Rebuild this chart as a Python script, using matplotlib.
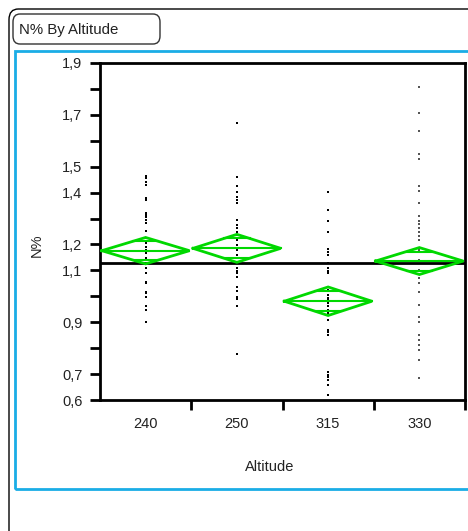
import matplotlib
matplotlib.use("Agg")
import matplotlib.pyplot as plt
from matplotlib.patches import FancyBboxPatch, Rectangle
from matplotlib.ticker import FixedLocator, FuncFormatter
import numpy as np

plt.rcParams['font.family'] = ['Liberation Sans', 'DejaVu Sans']

categories = ["240", "250", "315", "330"]

n_240 = [1.465, 1.455, 1.442, 1.429, 1.380, 1.371, 1.321, 1.314, 1.307, 1.294,
         1.282, 1.252, 1.225, 1.206, 1.190, 1.179, 1.167, 1.148, 1.110, 1.091,
         1.056, 1.050, 1.018, 1.011, 0.998, 0.964, 0.947, 0.902]
n_250 = [1.667, 1.461, 1.425, 1.401, 1.382, 1.371, 1.361, 1.294, 1.275, 1.262,
         1.249, 1.236, 1.217, 1.198, 1.179, 1.159, 1.127, 1.108, 1.099, 1.089,
         1.076, 1.035, 1.020, 0.998, 0.990, 0.963, 0.776]
n_315 = [1.401, 1.333, 1.290, 1.249, 1.182, 1.172, 1.159, 1.127, 1.108, 1.099,
         1.091, 1.024, 1.005, 0.992, 0.986, 0.974, 0.963, 0.947, 0.935, 0.908,
         0.870, 0.861, 0.851, 0.709, 0.696, 0.687, 0.677, 0.658, 0.619]
n_330 = [1.809, 1.708, 1.639, 1.549, 1.530, 1.427, 1.407, 1.361, 1.311, 1.292,
         1.279, 1.263, 1.248, 1.233, 1.217, 1.179, 1.140, 1.101, 1.070, 1.051,
         1.017, 0.966, 0.921, 0.902, 0.851, 0.831, 0.812, 0.793, 0.754, 0.684]
groups = [n_240, n_250, n_315, n_330]

group_means = [1.176, 1.185, 0.981, 1.136]
ci_half = [0.051, 0.054, 0.055, 0.052]
grand_mean = 1.127

y_ticks = [0.6, 0.7, 0.8, 0.9, 1.0, 1.1, 1.2, 1.3, 1.4, 1.5, 1.6, 1.7, 1.8, 1.9]
y_labeled = [1.9, 1.7, 1.5, 1.4, 1.2, 1.1, 0.9, 0.7, 0.6]

W, H = 468, 531
fig = plt.figure(figsize=(W / 100, H / 100), dpi=100)
fig.patch.set_facecolor("white")

def fx(px):
    return px / W

def fy(py):
    return 1 - py / H

txt_col = "#222222"

# outer frame
outer = FancyBboxPatch((fx(9), fy(560)), fx(520), fy(9) - fy(560),
                       boxstyle="round,pad=0,rounding_size=0.02",
                       transform=fig.transFigure, fill=False,
                       edgecolor="black", linewidth=1.0, clip_on=False)
fig.patches.append(outer)
# title box
tbox = FancyBboxPatch((fx(13), fy(44)), fx(160) - fx(13), fy(14) - fy(44),
                      boxstyle="round,pad=0,rounding_size=0.015",
                      transform=fig.transFigure, fill=False,
                      edgecolor="#333333", linewidth=1.0)
fig.patches.append(tbox)
fig.text(fx(19), fy(30), "N% By Altitude", fontsize=10.8, va="center", ha="left",
         color=txt_col)
# blue frame
blue = Rectangle((fx(14.5), fy(489)), fx(480), fy(51) - fy(489),
                 transform=fig.transFigure, fill=False,
                 edgecolor="#1AADE6", linewidth=2.0)
fig.patches.append(blue)

ax = fig.add_axes([fx(100), fy(400), fx(465) - fx(100), fy(63) - fy(400)])
ax.set_xlim(-0.5, 3.5)
ax.set_ylim(0.6, 1.9)

for i, vals in enumerate(groups):
    col = "#555555" if i == 3 else "black"
    ax.plot(np.full(len(vals), i), vals, linestyle="none", marker="s",
            markersize=1.6, color=col, markeredgewidth=0)

ax.axhline(grand_mean, color="black", linewidth=2.0, zorder=3)

green = "#00D800"
hw = 0.48
for i, (m, c) in enumerate(zip(group_means, ci_half)):
    xs = [i - hw, i, i + hw, i, i - hw]
    ys = [m, m + c, m, m - c, m]
    ax.plot(xs, ys, color=green, linewidth=2.0, zorder=4, solid_joinstyle="miter")
    ax.plot([i - hw, i + hw], [m, m], color=green, linewidth=1.5, zorder=4)
    o = c / np.sqrt(2)
    ow = hw * (1 - 1 / np.sqrt(2))
    ax.plot([i - ow, i + ow], [m + o, m + o], color=green, linewidth=1.5, zorder=4)
    ax.plot([i - ow, i + ow], [m - o, m - o], color=green, linewidth=1.5, zorder=4)

for s in ax.spines.values():
    s.set_linewidth(2.0)
    s.set_color("black")

ax.yaxis.set_major_locator(FixedLocator(y_ticks))
ax.yaxis.set_major_formatter(FuncFormatter(
    lambda v, p: (f"{v:.1f}".replace(".", ",")) if any(abs(v - t) < 1e-6 for t in y_labeled) else ""))
ax.tick_params(axis="y", which="major", length=7.2, width=2.0, pad=5.5, labelsize=10.5,
               labelcolor=txt_col)

ax.set_xticks(range(len(categories)))
ax.set_xticklabels(categories)
ax.tick_params(axis="x", which="major", length=0, pad=12.5, labelsize=10.5,
               labelcolor=txt_col)
ax.xaxis.set_minor_locator(FixedLocator([0.5, 1.5, 2.5, 3.5]))
ax.tick_params(axis="x", which="minor", length=7.2, width=2.0, direction="out")

fig.text(fx(270), fy(467), "Altitude", fontsize=10.5, ha="center", va="center",
         color=txt_col)
fig.text(fx(37), fy(245), "N%", fontsize=10.5, ha="center", va="center", rotation=90,
         color=txt_col)

fig.savefig("out.png", dpi=100)
